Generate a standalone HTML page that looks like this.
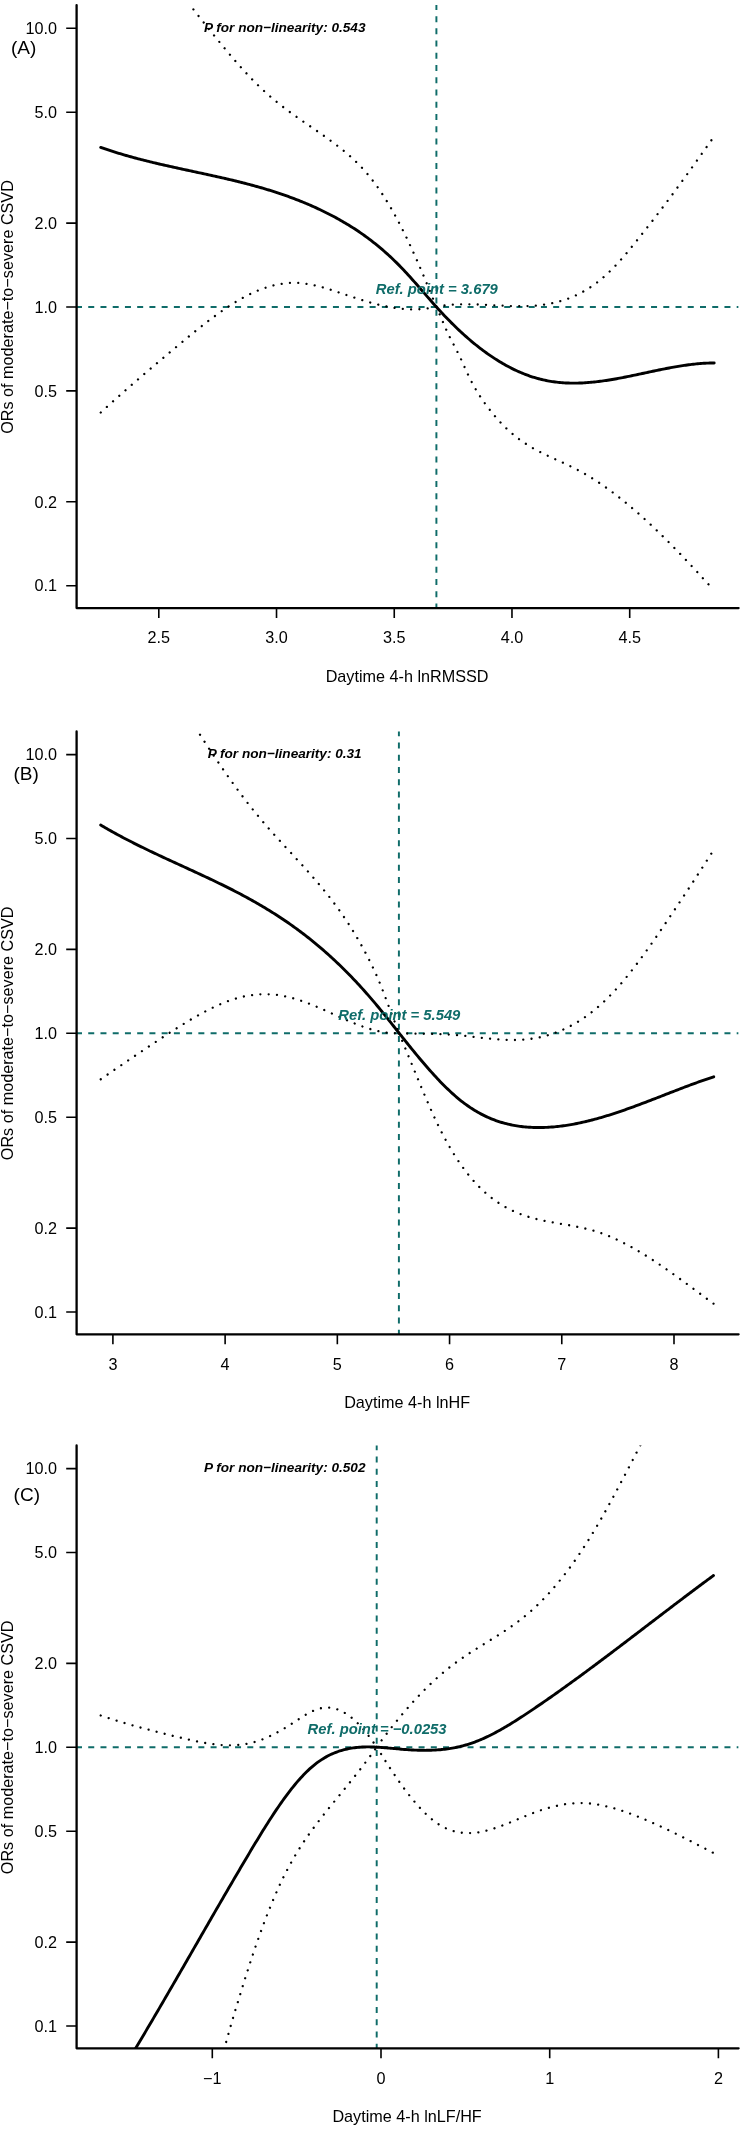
<!DOCTYPE html>
<html><head><meta charset="utf-8"><style>
html,body{margin:0;padding:0;background:#fff;}
svg{display:block;will-change:transform;}
text{font-family:"Liberation Sans",sans-serif;}
.t{font-size:16.2px;fill:#000;}
.l{font-size:19px;fill:#000;}
.p{font-size:13.6px;font-weight:bold;font-style:italic;fill:#000;}
.r{font-size:14.8px;font-weight:bold;font-style:italic;fill:#0f6c69;}
</style></head><body>
<svg width="744" height="2129" viewBox="0 0 744 2129">
<rect width="744" height="2129" fill="#fff"/>

<clipPath id="c0"><rect x="76.5" y="5.1" width="662.1" height="602.6"/></clipPath>
<g stroke="#0f6c69" stroke-width="1.95" stroke-dasharray="6 6.235" fill="none" clip-path="url(#c0)">
<line x1="76.0" y1="307.0" x2="738.6" y2="307.0"/>
<line x1="436.4" y1="3.9" x2="436.4" y2="607.7"/>
</g>
<g clip-path="url(#c0)" fill="none" stroke="#000">
<path d="M193.40,9.40 L194.91,11.31 L196.42,13.22 L197.93,15.13 L199.43,17.04 L200.94,18.94 L202.45,20.85 L203.96,22.75 L205.47,24.65 L206.98,26.55 L208.49,28.44 L210.00,30.33 L211.50,32.22 L213.01,34.09 L214.52,35.97 L216.03,37.84 L217.54,39.70 L219.05,41.55 L220.56,43.39 L222.07,45.23 L223.57,47.06 L225.08,48.88 L226.59,50.68 L228.10,52.48 L229.61,54.27 L231.12,56.05 L232.63,57.81 L234.13,59.56 L235.64,61.30 L237.15,63.03 L238.66,64.74 L240.17,66.43 L241.68,68.12 L243.19,69.78 L244.70,71.43 L246.20,73.07 L247.71,74.68 L249.22,76.28 L250.73,77.87 L252.24,79.43 L253.75,80.97 L255.26,82.50 L256.77,84.00 L258.27,85.49 L259.78,86.95 L261.29,88.39 L262.80,89.81 L264.31,91.21 L265.82,92.58 L267.33,93.93 L268.83,95.26 L270.34,96.57 L271.85,97.86 L273.36,99.13 L274.87,100.39 L276.38,101.62 L277.89,102.84 L279.40,104.04 L280.90,105.23 L282.41,106.40 L283.92,107.56 L285.43,108.71 L286.94,109.84 L288.45,110.96 L289.96,112.07 L291.47,113.17 L292.97,114.27 L294.48,115.35 L295.99,116.42 L297.50,117.49 L299.01,118.55 L300.52,119.61 L302.03,120.66 L303.53,121.71 L305.04,122.76 L306.55,123.80 L308.06,124.84 L309.57,125.88 L311.08,126.92 L312.59,127.96 L314.10,129.00 L315.60,130.04 L317.11,131.08 L318.62,132.13 L320.13,133.19 L321.64,134.25 L323.15,135.31 L324.66,136.38 L326.17,137.46 L327.67,138.54 L329.18,139.64 L330.69,140.74 L332.20,141.86 L333.71,142.98 L335.22,144.12 L336.73,145.27 L338.23,146.43 L339.74,147.61 L341.25,148.81 L342.76,150.02 L344.27,151.25 L345.78,152.51 L347.29,153.79 L348.80,155.09 L350.30,156.43 L351.81,157.79 L353.32,159.18 L354.83,160.60 L356.34,162.06 L357.85,163.55 L359.36,165.08 L360.87,166.65 L362.37,168.26 L363.88,169.91 L365.39,171.60 L366.90,173.34 L368.41,175.13 L369.92,176.97 L371.43,178.85 L372.93,180.79 L374.44,182.79 L375.95,184.83 L377.46,186.93 L378.97,189.09 L380.48,191.30 L381.99,193.56 L383.50,195.87 L385.00,198.24 L386.51,200.66 L388.02,203.13 L389.53,205.65 L391.04,208.23 L392.55,210.86 L394.06,213.54 L395.57,216.28 L397.07,219.07 L398.58,221.91 L400.09,224.80 L401.60,227.74 L403.11,230.73 L404.62,233.78 L406.13,236.87 L407.63,240.01 L409.14,243.20 L410.65,246.43 L412.16,249.71 L413.67,253.04 L415.18,256.41 L416.69,259.81 L418.20,263.26 L419.70,266.74 L421.21,270.26 L422.72,273.81 L424.23,277.39 L425.74,281.00 L427.25,284.63 L428.76,288.29 L430.27,291.97 L431.77,295.66 L433.28,299.37 L434.79,303.10 L436.30,306.83" stroke-width="2.3" stroke-linecap="round" stroke-dasharray="0.01 8.3"/>
<path d="M436.30,306.78 L437.81,306.51 L439.31,306.25 L440.82,306.01 L442.33,305.79 L443.83,305.58 L445.34,305.40 L446.85,305.22 L448.35,305.07 L449.86,304.93 L451.37,304.80 L452.87,304.69 L454.38,304.60 L455.88,304.51 L457.39,304.44 L458.90,304.39 L460.40,304.34 L461.91,304.30 L463.42,304.28 L464.92,304.26 L466.43,304.26 L467.94,304.26 L469.44,304.28 L470.95,304.30 L472.46,304.33 L473.96,304.36 L475.47,304.41 L476.98,304.45 L478.48,304.51 L479.99,304.57 L481.50,304.63 L483.00,304.70 L484.51,304.77 L486.02,304.84 L487.52,304.92 L489.03,305.00 L490.53,305.08 L492.04,305.16 L493.55,305.24 L495.05,305.32 L496.56,305.40 L498.07,305.48 L499.57,305.56 L501.08,305.63 L502.59,305.71 L504.09,305.78 L505.60,305.84 L507.11,305.90 L508.61,305.96 L510.12,306.01 L511.63,306.05 L513.13,306.09 L514.64,306.12 L516.15,306.15 L517.65,306.17 L519.16,306.17 L520.67,306.17 L522.17,306.16 L523.68,306.14 L525.18,306.11 L526.69,306.07 L528.20,306.02 L529.70,305.95 L531.21,305.87 L532.72,305.78 L534.22,305.68 L535.73,305.56 L537.24,305.43 L538.74,305.28 L540.25,305.11 L541.76,304.93 L543.26,304.73 L544.77,304.52 L546.28,304.29 L547.78,304.04 L549.29,303.77 L550.80,303.48 L552.30,303.17 L553.81,302.84 L555.32,302.49 L556.82,302.12 L558.33,301.73 L559.83,301.31 L561.34,300.88 L562.85,300.41 L564.35,299.93 L565.86,299.42 L567.37,298.88 L568.87,298.32 L570.38,297.74 L571.89,297.12 L573.39,296.48 L574.90,295.82 L576.41,295.12 L577.91,294.39 L579.42,293.64 L580.93,292.86 L582.43,292.04 L583.94,291.20 L585.45,290.32 L586.95,289.42 L588.46,288.48 L589.97,287.51 L591.47,286.50 L592.98,285.46 L594.48,284.39 L595.99,283.28 L597.50,282.13 L599.00,280.95 L600.51,279.74 L602.02,278.49 L603.52,277.20 L605.03,275.87 L606.54,274.50 L608.04,273.09 L609.55,271.65 L611.06,270.17 L612.56,268.65 L614.07,267.10 L615.58,265.52 L617.08,263.90 L618.59,262.26 L620.10,260.58 L621.60,258.89 L623.11,257.16 L624.62,255.42 L626.12,253.65 L627.63,251.86 L629.13,250.05 L630.64,248.23 L632.15,246.39 L633.65,244.54 L635.16,242.67 L636.67,240.80 L638.17,238.91 L639.68,237.02 L641.19,235.12 L642.69,233.22 L644.20,231.31 L645.71,229.39 L647.21,227.47 L648.72,225.55 L650.23,223.62 L651.73,221.68 L653.24,219.74 L654.75,217.79 L656.25,215.83 L657.76,213.87 L659.27,211.90 L660.77,209.92 L662.28,207.94 L663.78,205.94 L665.29,203.95 L666.80,201.94 L668.30,199.92 L669.81,197.90 L671.32,195.88 L672.82,193.84 L674.33,191.80 L675.84,189.75 L677.34,187.70 L678.85,185.64 L680.36,183.57 L681.86,181.50 L683.37,179.43 L684.88,177.35 L686.38,175.27 L687.89,173.18 L689.40,171.09 L690.90,168.99 L692.41,166.89 L693.92,164.79 L695.42,162.68 L696.93,160.58 L698.43,158.47 L699.94,156.35 L701.45,154.24 L702.95,152.12 L704.46,150.01 L705.97,147.89 L707.47,145.77 L708.98,143.65 L710.49,141.53 L711.99,139.41 L713.50,137.29" stroke-width="2.3" stroke-linecap="round" stroke-dasharray="0.01 8.3"/>
<path d="M100.75,412.51 L102.25,411.12 L103.76,409.75 L105.26,408.37 L106.77,407.00 L108.27,405.64 L109.78,404.28 L111.28,402.92 L112.79,401.57 L114.29,400.22 L115.80,398.87 L117.30,397.53 L118.81,396.19 L120.31,394.86 L121.82,393.52 L123.32,392.20 L124.83,390.87 L126.33,389.55 L127.83,388.23 L129.34,386.91 L130.84,385.60 L132.35,384.29 L133.85,382.99 L135.36,381.68 L136.86,380.38 L138.37,379.08 L139.87,377.78 L141.38,376.49 L142.88,375.20 L144.39,373.91 L145.89,372.62 L147.40,371.33 L148.90,370.05 L150.41,368.77 L151.91,367.49 L153.41,366.21 L154.92,364.93 L156.42,363.66 L157.93,362.39 L159.43,361.12 L160.94,359.84 L162.44,358.58 L163.95,357.31 L165.45,356.04 L166.96,354.78 L168.46,353.51 L169.97,352.25 L171.47,350.98 L172.98,349.72 L174.48,348.46 L175.99,347.20 L177.49,345.94 L178.99,344.68 L180.50,343.42 L182.00,342.16 L183.51,340.91 L185.01,339.66 L186.52,338.41 L188.02,337.17 L189.53,335.93 L191.03,334.69 L192.54,333.46 L194.04,332.23 L195.55,331.01 L197.05,329.79 L198.56,328.58 L200.06,327.38 L201.57,326.19 L203.07,325.00 L204.57,323.82 L206.08,322.65 L207.58,321.49 L209.09,320.34 L210.59,319.19 L212.10,318.06 L213.60,316.94 L215.11,315.83 L216.61,314.73 L218.12,313.64 L219.62,312.57 L221.13,311.50 L222.63,310.45 L224.14,309.42 L225.64,308.39 L227.15,307.38 L228.65,306.39 L230.15,305.41 L231.66,304.45 L233.16,303.50 L234.67,302.57 L236.17,301.66 L237.68,300.76 L239.18,299.88 L240.69,299.02 L242.19,298.18 L243.70,297.36 L245.20,296.55 L246.71,295.77 L248.21,295.00 L249.72,294.26 L251.22,293.53 L252.73,292.83 L254.23,292.15 L255.73,291.49 L257.24,290.86 L258.74,290.24 L260.25,289.65 L261.75,289.08 L263.26,288.54 L264.76,288.01 L266.27,287.51 L267.77,287.04 L269.28,286.59 L270.78,286.16 L272.29,285.76 L273.79,285.38 L275.30,285.03 L276.80,284.70 L278.31,284.40 L279.81,284.12 L281.32,283.88 L282.82,283.65 L284.32,283.46 L285.83,283.29 L287.33,283.15 L288.84,283.03 L290.34,282.95 L291.85,282.89 L293.35,282.86 L294.86,282.86 L296.36,282.89 L297.87,282.94 L299.37,283.03 L300.88,283.14 L302.38,283.28 L303.89,283.45 L305.39,283.64 L306.90,283.86 L308.40,284.10 L309.90,284.36 L311.41,284.64 L312.91,284.95 L314.42,285.27 L315.92,285.61 L317.43,285.97 L318.93,286.35 L320.44,286.74 L321.94,287.14 L323.45,287.56 L324.95,288.00 L326.46,288.44 L327.96,288.90 L329.47,289.36 L330.97,289.83 L332.48,290.32 L333.98,290.80 L335.48,291.30 L336.99,291.80 L338.49,292.30 L340.00,292.81 L341.50,293.32 L343.01,293.83 L344.51,294.34 L346.02,294.85 L347.52,295.36 L349.03,295.86 L350.53,296.36 L352.04,296.86 L353.54,297.36 L355.05,297.85 L356.55,298.34 L358.06,298.82 L359.56,299.30 L361.06,299.77 L362.57,300.24 L364.07,300.70 L365.58,301.15 L367.08,301.60 L368.59,302.04 L370.09,302.47 L371.60,302.89 L373.10,303.30 L374.61,303.70 L376.11,304.09 L377.62,304.48 L379.12,304.85 L380.63,305.21 L382.13,305.56 L383.64,305.89 L385.14,306.22 L386.64,306.53 L388.15,306.83 L389.65,307.11 L391.16,307.38 L392.66,307.64 L394.17,307.88 L395.67,308.10 L397.18,308.31 L398.68,308.50 L400.19,308.68 L401.69,308.84 L403.20,308.98 L404.70,309.10 L406.21,309.21 L407.71,309.29 L409.22,309.36 L410.72,309.40 L412.22,309.43 L413.73,309.44 L415.23,309.42 L416.74,309.39 L418.24,309.33 L419.75,309.25 L421.25,309.14 L422.76,309.02 L424.26,308.87 L425.77,308.69 L427.27,308.49 L428.78,308.27 L430.28,308.02 L431.79,307.75 L433.29,307.45 L434.80,307.12 L436.30,306.77" stroke-width="2.3" stroke-linecap="round" stroke-dasharray="0.01 8.3"/>
<path d="M436.30,306.79 L437.80,310.07 L439.30,313.50 L440.80,317.04 L442.30,320.61 L443.81,324.16 L445.31,327.62 L446.81,330.93 L448.31,334.10 L449.81,337.16 L451.31,340.12 L452.81,343.02 L454.31,345.89 L455.81,348.75 L457.32,351.65 L458.82,354.62 L460.32,357.71 L461.82,360.94 L463.32,364.27 L464.82,367.64 L466.32,370.98 L467.82,374.23 L469.32,377.34 L470.82,380.33 L472.33,383.21 L473.83,385.96 L475.33,388.61 L476.83,391.16 L478.33,393.61 L479.83,395.97 L481.33,398.25 L482.83,400.46 L484.33,402.59 L485.84,404.66 L487.34,406.68 L488.84,408.64 L490.34,410.56 L491.84,412.44 L493.34,414.27 L494.84,416.06 L496.34,417.80 L497.84,419.50 L499.35,421.16 L500.85,422.78 L502.35,424.35 L503.85,425.88 L505.35,427.37 L506.85,428.82 L508.35,430.23 L509.85,431.59 L511.35,432.92 L512.86,434.20 L514.36,435.45 L515.86,436.65 L517.36,437.82 L518.86,438.96 L520.36,440.06 L521.86,441.13 L523.36,442.17 L524.86,443.18 L526.36,444.16 L527.87,445.11 L529.37,446.03 L530.87,446.94 L532.37,447.81 L533.87,448.67 L535.37,449.50 L536.87,450.32 L538.37,451.12 L539.87,451.90 L541.38,452.66 L542.88,453.41 L544.38,454.15 L545.88,454.87 L547.38,455.59 L548.88,456.29 L550.38,456.99 L551.88,457.68 L553.38,458.37 L554.89,459.05 L556.39,459.73 L557.89,460.41 L559.39,461.09 L560.89,461.77 L562.39,462.46 L563.89,463.14 L565.39,463.83 L566.89,464.53 L568.40,465.24 L569.90,465.96 L571.40,466.68 L572.90,467.42 L574.40,468.17 L575.90,468.94 L577.40,469.72 L578.90,470.52 L580.40,471.33 L581.90,472.16 L583.41,473.01 L584.91,473.87 L586.41,474.74 L587.91,475.64 L589.41,476.54 L590.91,477.46 L592.41,478.40 L593.91,479.35 L595.41,480.31 L596.92,481.29 L598.42,482.28 L599.92,483.29 L601.42,484.31 L602.92,485.35 L604.42,486.39 L605.92,487.46 L607.42,488.53 L608.92,489.62 L610.43,490.72 L611.93,491.83 L613.43,492.96 L614.93,494.10 L616.43,495.25 L617.93,496.42 L619.43,497.60 L620.93,498.78 L622.43,499.99 L623.94,501.20 L625.44,502.42 L626.94,503.66 L628.44,504.91 L629.94,506.17 L631.44,507.44 L632.94,508.72 L634.44,510.01 L635.94,511.31 L637.44,512.63 L638.95,513.95 L640.45,515.29 L641.95,516.63 L643.45,517.99 L644.95,519.35 L646.45,520.72 L647.95,522.11 L649.45,523.50 L650.95,524.90 L652.46,526.32 L653.96,527.74 L655.46,529.17 L656.96,530.61 L658.46,532.06 L659.96,533.51 L661.46,534.98 L662.96,536.45 L664.46,537.93 L665.97,539.42 L667.47,540.92 L668.97,542.42 L670.47,543.94 L671.97,545.46 L673.47,546.98 L674.97,548.52 L676.47,550.06 L677.97,551.61 L679.48,553.16 L680.98,554.73 L682.48,556.30 L683.98,557.87 L685.48,559.45 L686.98,561.04 L688.48,562.63 L689.98,564.23 L691.48,565.84 L692.98,567.45 L694.49,569.06 L695.99,570.68 L697.49,572.31 L698.99,573.94 L700.49,575.58 L701.99,577.22 L703.49,578.86 L704.99,580.51 L706.49,582.17 L708.00,583.83 L709.50,585.49 L711.00,587.16 L712.50,588.83 L714.00,590.50" stroke-width="2.3" stroke-linecap="round" stroke-dasharray="0.01 8.3"/>
<path d="M100.70,147.39 L102.20,147.92 L103.70,148.43 L105.20,148.95 L106.70,149.45 L108.20,149.95 L109.70,150.44 L111.20,150.93 L112.70,151.41 L114.20,151.88 L115.70,152.35 L117.20,152.82 L118.70,153.28 L120.20,153.73 L121.70,154.18 L123.20,154.62 L124.70,155.06 L126.20,155.49 L127.70,155.92 L129.20,156.34 L130.70,156.76 L132.20,157.17 L133.70,157.58 L135.20,157.98 L136.70,158.38 L138.20,158.78 L139.70,159.17 L141.20,159.56 L142.70,159.95 L144.20,160.33 L145.70,160.71 L147.20,161.08 L148.70,161.45 L150.20,161.82 L151.70,162.18 L153.20,162.55 L154.70,162.91 L156.20,163.26 L157.70,163.61 L159.20,163.97 L160.70,164.31 L162.20,164.66 L163.70,165.00 L165.20,165.35 L166.70,165.69 L168.20,166.02 L169.70,166.36 L171.20,166.69 L172.70,167.03 L174.20,167.36 L175.70,167.69 L177.20,168.02 L178.70,168.34 L180.20,168.67 L181.70,169.00 L183.20,169.32 L184.70,169.64 L186.20,169.97 L187.70,170.29 L189.20,170.61 L190.70,170.93 L192.20,171.26 L193.70,171.58 L195.20,171.90 L196.70,172.22 L198.20,172.55 L199.70,172.87 L201.20,173.19 L202.70,173.51 L204.20,173.84 L205.70,174.16 L207.20,174.49 L208.70,174.82 L210.20,175.15 L211.70,175.48 L213.20,175.81 L214.70,176.14 L216.20,176.47 L217.70,176.81 L219.20,177.15 L220.70,177.49 L222.20,177.83 L223.70,178.17 L225.20,178.52 L226.70,178.87 L228.20,179.22 L229.70,179.57 L231.20,179.92 L232.70,180.28 L234.20,180.64 L235.70,181.01 L237.20,181.38 L238.70,181.75 L240.20,182.12 L241.70,182.50 L243.20,182.88 L244.70,183.26 L246.20,183.65 L247.70,184.04 L249.20,184.44 L250.70,184.84 L252.20,185.24 L253.70,185.65 L255.20,186.07 L256.70,186.48 L258.20,186.90 L259.70,187.33 L261.20,187.76 L262.70,188.20 L264.20,188.64 L265.70,189.09 L267.20,189.54 L268.70,190.00 L270.20,190.46 L271.70,190.93 L273.20,191.40 L274.70,191.88 L276.20,192.37 L277.70,192.86 L279.20,193.36 L280.70,193.86 L282.20,194.37 L283.70,194.89 L285.20,195.41 L286.70,195.94 L288.20,196.48 L289.70,197.02 L291.20,197.58 L292.70,198.13 L294.20,198.70 L295.70,199.27 L297.20,199.85 L298.70,200.44 L300.20,201.03 L301.70,201.64 L303.20,202.25 L304.70,202.87 L306.20,203.49 L307.70,204.13 L309.20,204.77 L310.70,205.42 L312.20,206.08 L313.70,206.75 L315.20,207.43 L316.70,208.12 L318.20,208.81 L319.70,209.52 L321.20,210.23 L322.70,210.96 L324.20,211.69 L325.70,212.43 L327.20,213.18 L328.70,213.94 L330.20,214.71 L331.70,215.49 L333.20,216.29 L334.70,217.09 L336.20,217.90 L337.70,218.72 L339.20,219.56 L340.70,220.41 L342.20,221.26 L343.70,222.13 L345.20,223.02 L346.70,223.91 L348.20,224.82 L349.70,225.74 L351.20,226.68 L352.70,227.63 L354.20,228.59 L355.70,229.57 L357.20,230.56 L358.70,231.57 L360.20,232.59 L361.70,233.63 L363.20,234.68 L364.70,235.75 L366.20,236.84 L367.70,237.94 L369.20,239.06 L370.70,240.19 L372.20,241.35 L373.70,242.52 L375.20,243.71 L376.70,244.92 L378.20,246.14 L379.70,247.38 L381.20,248.65 L382.70,249.93 L384.20,251.23 L385.70,252.55 L387.20,253.90 L388.70,255.26 L390.20,256.64 L391.70,258.05 L393.20,259.47 L394.70,260.92 L396.20,262.39 L397.70,263.88 L399.20,265.39 L400.70,266.92 L402.20,268.48 L403.70,270.06 L405.20,271.66 L406.70,273.28 L408.20,274.92 L409.70,276.57 L411.20,278.24 L412.70,279.92 L414.20,281.61 L415.70,283.32 L417.20,285.03 L418.70,286.74 L420.20,288.46 L421.70,290.19 L423.20,291.91 L424.70,293.64 L426.20,295.37 L427.70,297.09 L429.20,298.81 L430.70,300.52 L432.20,302.23 L433.70,303.92 L435.20,305.61 L436.70,307.28 L438.20,308.94 L439.70,310.58 L441.20,312.21 L442.70,313.82 L444.20,315.41 L445.70,316.98 L447.20,318.54 L448.70,320.08 L450.20,321.60 L451.70,323.10 L453.20,324.59 L454.70,326.06 L456.20,327.51 L457.70,328.94 L459.20,330.36 L460.70,331.76 L462.20,333.14 L463.70,334.50 L465.20,335.84 L466.70,337.17 L468.20,338.48 L469.70,339.77 L471.20,341.04 L472.70,342.29 L474.20,343.53 L475.70,344.75 L477.20,345.94 L478.70,347.12 L480.20,348.29 L481.70,349.43 L483.20,350.55 L484.70,351.66 L486.20,352.75 L487.70,353.82 L489.20,354.87 L490.70,355.90 L492.20,356.91 L493.70,357.91 L495.20,358.88 L496.70,359.84 L498.20,360.77 L499.70,361.69 L501.20,362.59 L502.70,363.47 L504.20,364.33 L505.70,365.18 L507.20,366.00 L508.70,366.80 L510.20,367.59 L511.70,368.35 L513.20,369.10 L514.70,369.82 L516.20,370.53 L517.70,371.22 L519.20,371.89 L520.70,372.53 L522.20,373.16 L523.70,373.77 L525.20,374.36 L526.70,374.93 L528.20,375.48 L529.70,376.01 L531.20,376.52 L532.70,377.01 L534.20,377.48 L535.70,377.93 L537.20,378.36 L538.70,378.77 L540.20,379.16 L541.70,379.53 L543.20,379.87 L544.70,380.20 L546.20,380.52 L547.70,380.81 L549.20,381.08 L550.70,381.33 L552.20,381.57 L553.70,381.79 L555.20,381.99 L556.70,382.17 L558.20,382.34 L559.70,382.49 L561.20,382.62 L562.70,382.74 L564.20,382.84 L565.70,382.93 L567.20,383.00 L568.70,383.06 L570.20,383.10 L571.70,383.12 L573.20,383.14 L574.70,383.14 L576.20,383.12 L577.70,383.09 L579.20,383.05 L580.70,383.00 L582.20,382.94 L583.70,382.86 L585.20,382.77 L586.70,382.67 L588.20,382.56 L589.70,382.43 L591.20,382.30 L592.70,382.16 L594.20,382.00 L595.70,381.84 L597.20,381.67 L598.70,381.49 L600.20,381.29 L601.70,381.10 L603.20,380.89 L604.70,380.67 L606.20,380.45 L607.70,380.22 L609.20,379.98 L610.70,379.74 L612.20,379.48 L613.70,379.23 L615.20,378.96 L616.70,378.70 L618.20,378.42 L619.70,378.14 L621.20,377.86 L622.70,377.57 L624.20,377.28 L625.70,376.98 L627.20,376.68 L628.70,376.37 L630.20,376.07 L631.70,375.76 L633.20,375.44 L634.70,375.13 L636.20,374.81 L637.70,374.50 L639.20,374.18 L640.70,373.86 L642.20,373.54 L643.70,373.21 L645.20,372.89 L646.70,372.57 L648.20,372.25 L649.70,371.93 L651.20,371.61 L652.70,371.29 L654.20,370.98 L655.70,370.66 L657.20,370.35 L658.70,370.04 L660.20,369.73 L661.70,369.43 L663.20,369.13 L664.70,368.83 L666.20,368.54 L667.70,368.25 L669.20,367.96 L670.70,367.68 L672.20,367.41 L673.70,367.14 L675.20,366.87 L676.70,366.62 L678.20,366.36 L679.70,366.12 L681.20,365.88 L682.70,365.65 L684.20,365.43 L685.70,365.21 L687.20,365.00 L688.70,364.80 L690.20,364.61 L691.70,364.43 L693.20,364.25 L694.70,364.09 L696.20,363.93 L697.70,363.79 L699.20,363.66 L700.70,363.53 L702.20,363.42 L703.70,363.32 L705.20,363.23 L706.70,363.15 L708.20,363.08 L709.70,363.03 L711.20,362.99 L712.70,362.96 L714.20,362.94" stroke-width="2.9" stroke-linecap="round" stroke-linejoin="round"/>
</g>
<path d="M76.6,5.1 V608.1 H738.6" fill="none" stroke="#000" stroke-width="2.3" stroke-linecap="round" stroke-linejoin="round"/>
<text class="t" x="57.1" y="34.0" text-anchor="end">10.0</text>
<text class="t" x="57.1" y="117.9" text-anchor="end">5.0</text>
<text class="t" x="57.1" y="228.8" text-anchor="end">2.0</text>
<text class="t" x="57.1" y="312.7" text-anchor="end">1.0</text>
<text class="t" x="57.1" y="396.6" text-anchor="end">0.5</text>
<text class="t" x="57.1" y="507.5" text-anchor="end">0.2</text>
<text class="t" x="57.1" y="591.4" text-anchor="end">0.1</text>
<text class="t" x="158.8" y="643.3" text-anchor="middle">2.5</text>
<text class="t" x="276.5" y="643.3" text-anchor="middle">3.0</text>
<text class="t" x="394.2" y="643.3" text-anchor="middle">3.5</text>
<text class="t" x="512.0" y="643.3" text-anchor="middle">4.0</text>
<text class="t" x="629.7" y="643.3" text-anchor="middle">4.5</text>
<path d="M66.2,28.30H76.5M66.2,112.20H76.5M66.2,223.10H76.5M66.2,307.00H76.5M66.2,390.90H76.5M66.2,501.80H76.5M66.2,585.70H76.5M158.80,607.7V618.0M276.52,607.7V618.0M394.25,607.7V618.0M511.97,607.7V618.0M629.70,607.7V618.0" stroke="#000" stroke-width="1.6" fill="none"/>
<text class="t" x="407.1" y="682.0" text-anchor="middle">Daytime 4-h lnRMSSD</text>
<text class="t" transform="translate(13.4,307.0) rotate(-90)" text-anchor="middle">ORs of moderate−to−severe CSVD</text>
<text class="l" x="11.0" y="53.7">(A)</text>
<text class="p" x="284.7" y="31.5" text-anchor="middle">P for non−linearity: 0.543</text>
<text class="r" x="436.8" y="293.8" text-anchor="middle">Ref. point = 3.679</text>
<clipPath id="c1"><rect x="76.5" y="731.4" width="662.1" height="602.6"/></clipPath>
<g stroke="#0f6c69" stroke-width="1.95" stroke-dasharray="6 6.235" fill="none" clip-path="url(#c1)">
<line x1="76.0" y1="1033.3" x2="738.6" y2="1033.3"/>
<line x1="398.9" y1="730.2" x2="398.9" y2="1334.0"/>
</g>
<g clip-path="url(#c1)" fill="none" stroke="#000">
<path d="M200.00,734.74 L201.51,737.07 L203.01,739.39 L204.52,741.71 L206.03,744.01 L207.53,746.31 L209.04,748.59 L210.55,750.87 L212.05,753.13 L213.56,755.39 L215.07,757.63 L216.57,759.86 L218.08,762.08 L219.59,764.29 L221.10,766.49 L222.60,768.67 L224.11,770.84 L225.62,773.00 L227.12,775.15 L228.63,777.28 L230.14,779.40 L231.64,781.51 L233.15,783.60 L234.66,785.68 L236.16,787.74 L237.67,789.79 L239.18,791.83 L240.68,793.85 L242.19,795.85 L243.70,797.84 L245.20,799.81 L246.71,801.77 L248.22,803.71 L249.72,805.63 L251.23,807.54 L252.74,809.43 L254.25,811.31 L255.75,813.16 L257.26,815.00 L258.77,816.82 L260.27,818.63 L261.78,820.41 L263.29,822.18 L264.79,823.94 L266.30,825.68 L267.81,827.41 L269.31,829.12 L270.82,830.83 L272.33,832.52 L273.83,834.20 L275.34,835.88 L276.85,837.54 L278.35,839.20 L279.86,840.85 L281.37,842.50 L282.88,844.14 L284.38,845.78 L285.89,847.41 L287.40,849.04 L288.90,850.67 L290.41,852.30 L291.92,853.93 L293.42,855.56 L294.93,857.19 L296.44,858.83 L297.94,860.46 L299.45,862.11 L300.96,863.75 L302.46,865.41 L303.97,867.07 L305.48,868.74 L306.98,870.41 L308.49,872.10 L310.00,873.80 L311.50,875.51 L313.01,877.23 L314.52,878.96 L316.02,880.71 L317.53,882.47 L319.04,884.24 L320.55,886.04 L322.05,887.85 L323.56,889.69 L325.07,891.54 L326.57,893.41 L328.08,895.31 L329.59,897.23 L331.09,899.18 L332.60,901.15 L334.11,903.15 L335.61,905.17 L337.12,907.23 L338.63,909.31 L340.13,911.43 L341.64,913.58 L343.15,915.76 L344.65,917.98 L346.16,920.24 L347.67,922.53 L349.17,924.85 L350.68,927.22 L352.19,929.63 L353.70,932.08 L355.20,934.57 L356.71,937.10 L358.22,939.68 L359.72,942.30 L361.23,944.98 L362.74,947.69 L364.24,950.46 L365.75,953.28 L367.26,956.15 L368.76,959.08 L370.27,962.08 L371.78,965.15 L373.28,968.30 L374.79,971.55 L376.30,974.88 L377.80,978.32 L379.31,981.88 L380.82,985.54 L382.32,989.33 L383.83,993.25 L385.34,997.26 L386.85,1001.32 L388.35,1005.39 L389.86,1009.42 L391.37,1013.37 L392.87,1017.23 L394.38,1021.05 L395.89,1024.93 L397.39,1028.94 L398.90,1033.19" stroke-width="2.3" stroke-linecap="round" stroke-dasharray="0.01 8.3"/>
<path d="M398.90,1033.22 L400.41,1033.28 L401.91,1033.34 L403.42,1033.39 L404.92,1033.44 L406.43,1033.48 L407.93,1033.52 L409.44,1033.56 L410.95,1033.59 L412.45,1033.62 L413.96,1033.64 L415.46,1033.67 L416.97,1033.69 L418.47,1033.71 L419.98,1033.73 L421.49,1033.75 L422.99,1033.77 L424.50,1033.79 L426.00,1033.81 L427.51,1033.83 L429.01,1033.86 L430.52,1033.88 L432.03,1033.91 L433.53,1033.94 L435.04,1033.98 L436.54,1034.02 L438.05,1034.06 L439.56,1034.11 L441.06,1034.16 L442.57,1034.22 L444.07,1034.28 L445.58,1034.35 L447.08,1034.43 L448.59,1034.52 L450.10,1034.61 L451.60,1034.71 L453.11,1034.82 L454.61,1034.94 L456.12,1035.06 L457.62,1035.19 L459.13,1035.33 L460.64,1035.48 L462.14,1035.63 L463.65,1035.78 L465.15,1035.94 L466.66,1036.11 L468.16,1036.27 L469.67,1036.44 L471.18,1036.62 L472.68,1036.79 L474.19,1036.96 L475.69,1037.14 L477.20,1037.31 L478.70,1037.49 L480.21,1037.66 L481.72,1037.83 L483.22,1038.00 L484.73,1038.16 L486.23,1038.33 L487.74,1038.48 L489.24,1038.64 L490.75,1038.79 L492.26,1038.93 L493.76,1039.06 L495.27,1039.19 L496.77,1039.31 L498.28,1039.43 L499.78,1039.53 L501.29,1039.63 L502.80,1039.72 L504.30,1039.79 L505.81,1039.86 L507.31,1039.91 L508.82,1039.95 L510.32,1039.98 L511.83,1040.00 L513.34,1040.00 L514.84,1039.99 L516.35,1039.96 L517.85,1039.92 L519.36,1039.86 L520.87,1039.79 L522.37,1039.70 L523.88,1039.59 L525.38,1039.46 L526.89,1039.32 L528.39,1039.15 L529.90,1038.97 L531.41,1038.77 L532.91,1038.54 L534.42,1038.30 L535.92,1038.04 L537.43,1037.76 L538.93,1037.45 L540.44,1037.13 L541.95,1036.78 L543.45,1036.42 L544.96,1036.03 L546.46,1035.62 L547.97,1035.19 L549.47,1034.74 L550.98,1034.26 L552.49,1033.76 L553.99,1033.24 L555.50,1032.70 L557.00,1032.13 L558.51,1031.54 L560.01,1030.93 L561.52,1030.29 L563.03,1029.63 L564.53,1028.94 L566.04,1028.23 L567.54,1027.50 L569.05,1026.74 L570.55,1025.96 L572.06,1025.14 L573.57,1024.31 L575.07,1023.45 L576.58,1022.56 L578.08,1021.65 L579.59,1020.71 L581.09,1019.74 L582.60,1018.74 L584.11,1017.72 L585.61,1016.67 L587.12,1015.60 L588.62,1014.49 L590.13,1013.36 L591.63,1012.20 L593.14,1011.01 L594.65,1009.80 L596.15,1008.55 L597.66,1007.28 L599.16,1005.97 L600.67,1004.64 L602.18,1003.27 L603.68,1001.88 L605.19,1000.45 L606.69,999.00 L608.20,997.52 L609.70,996.00 L611.21,994.45 L612.72,992.87 L614.22,991.26 L615.73,989.62 L617.23,987.95 L618.74,986.26 L620.24,984.53 L621.75,982.78 L623.26,980.99 L624.76,979.19 L626.27,977.36 L627.77,975.50 L629.28,973.62 L630.78,971.72 L632.29,969.80 L633.80,967.85 L635.30,965.88 L636.81,963.90 L638.31,961.89 L639.82,959.87 L641.32,957.83 L642.83,955.77 L644.34,953.70 L645.84,951.61 L647.35,949.50 L648.85,947.39 L650.36,945.26 L651.86,943.11 L653.37,940.96 L654.88,938.79 L656.38,936.62 L657.89,934.43 L659.39,932.24 L660.90,930.04 L662.40,927.83 L663.91,925.61 L665.42,923.39 L666.92,921.17 L668.43,918.94 L669.93,916.70 L671.44,914.46 L672.94,912.22 L674.45,909.98 L675.96,907.73 L677.46,905.47 L678.97,903.21 L680.47,900.95 L681.98,898.68 L683.49,896.41 L684.99,894.13 L686.50,891.85 L688.00,889.57 L689.51,887.28 L691.01,884.99 L692.52,882.69 L694.03,880.38 L695.53,878.08 L697.04,875.76 L698.54,873.45 L700.05,871.13 L701.55,868.80 L703.06,866.47 L704.57,864.14 L706.07,861.80 L707.58,859.45 L709.08,857.10 L710.59,854.75 L712.09,852.39 L713.60,850.02" stroke-width="2.3" stroke-linecap="round" stroke-dasharray="0.01 8.3"/>
<path d="M100.75,1079.23 L102.26,1078.19 L103.76,1077.15 L105.27,1076.12 L106.77,1075.08 L108.28,1074.04 L109.78,1073.01 L111.29,1071.97 L112.80,1070.94 L114.30,1069.90 L115.81,1068.87 L117.31,1067.83 L118.82,1066.80 L120.33,1065.77 L121.83,1064.74 L123.34,1063.71 L124.84,1062.68 L126.35,1061.65 L127.85,1060.63 L129.36,1059.60 L130.87,1058.58 L132.37,1057.56 L133.88,1056.53 L135.38,1055.51 L136.89,1054.49 L138.40,1053.48 L139.90,1052.46 L141.41,1051.45 L142.91,1050.43 L144.42,1049.42 L145.92,1048.41 L147.43,1047.41 L148.94,1046.40 L150.44,1045.40 L151.95,1044.39 L153.45,1043.39 L154.96,1042.40 L156.46,1041.40 L157.97,1040.41 L159.48,1039.41 L160.98,1038.43 L162.49,1037.44 L163.99,1036.45 L165.50,1035.47 L167.01,1034.49 L168.51,1033.51 L170.02,1032.54 L171.52,1031.57 L173.03,1030.60 L174.53,1029.63 L176.04,1028.67 L177.55,1027.72 L179.05,1026.76 L180.56,1025.82 L182.06,1024.88 L183.57,1023.94 L185.08,1023.01 L186.58,1022.09 L188.09,1021.18 L189.59,1020.27 L191.10,1019.38 L192.60,1018.49 L194.11,1017.61 L195.62,1016.74 L197.12,1015.88 L198.63,1015.03 L200.13,1014.19 L201.64,1013.36 L203.14,1012.55 L204.65,1011.74 L206.16,1010.95 L207.66,1010.17 L209.17,1009.41 L210.67,1008.66 L212.18,1007.92 L213.69,1007.20 L215.19,1006.49 L216.70,1005.80 L218.20,1005.12 L219.71,1004.46 L221.21,1003.82 L222.72,1003.20 L224.23,1002.59 L225.73,1002.00 L227.24,1001.43 L228.74,1000.88 L230.25,1000.34 L231.76,999.83 L233.26,999.34 L234.77,998.87 L236.27,998.42 L237.78,997.99 L239.28,997.58 L240.79,997.19 L242.30,996.83 L243.80,996.49 L245.31,996.18 L246.81,995.89 L248.32,995.62 L249.82,995.37 L251.33,995.15 L252.84,994.95 L254.34,994.78 L255.85,994.63 L257.35,994.50 L258.86,994.39 L260.37,994.31 L261.87,994.25 L263.38,994.22 L264.88,994.21 L266.39,994.22 L267.89,994.25 L269.40,994.31 L270.91,994.39 L272.41,994.50 L273.92,994.62 L275.42,994.78 L276.93,994.95 L278.44,995.15 L279.94,995.37 L281.45,995.61 L282.95,995.88 L284.46,996.17 L285.96,996.48 L287.47,996.81 L288.98,997.17 L290.48,997.55 L291.99,997.94 L293.49,998.36 L295.00,998.80 L296.51,999.25 L298.01,999.72 L299.52,1000.21 L301.02,1000.71 L302.53,1001.23 L304.03,1001.77 L305.54,1002.32 L307.05,1002.88 L308.55,1003.46 L310.06,1004.04 L311.56,1004.64 L313.07,1005.25 L314.57,1005.87 L316.08,1006.50 L317.59,1007.14 L319.09,1007.78 L320.60,1008.44 L322.10,1009.09 L323.61,1009.76 L325.12,1010.43 L326.62,1011.10 L328.13,1011.78 L329.63,1012.46 L331.14,1013.15 L332.64,1013.83 L334.15,1014.52 L335.66,1015.20 L337.16,1015.88 L338.67,1016.57 L340.17,1017.25 L341.68,1017.92 L343.19,1018.59 L344.69,1019.26 L346.20,1019.92 L347.70,1020.57 L349.21,1021.22 L350.71,1021.85 L352.22,1022.48 L353.73,1023.10 L355.23,1023.71 L356.74,1024.31 L358.24,1024.89 L359.75,1025.46 L361.25,1026.02 L362.76,1026.57 L364.27,1027.09 L365.77,1027.61 L367.28,1028.10 L368.78,1028.58 L370.29,1029.04 L371.80,1029.48 L373.30,1029.90 L374.81,1030.29 L376.31,1030.67 L377.82,1031.03 L379.32,1031.36 L380.83,1031.66 L382.34,1031.95 L383.84,1032.20 L385.35,1032.43 L386.85,1032.64 L388.36,1032.81 L389.87,1032.96 L391.37,1033.07 L392.88,1033.16 L394.38,1033.22 L395.89,1033.24 L397.39,1033.23 L398.90,1033.19" stroke-width="2.3" stroke-linecap="round" stroke-dasharray="0.01 8.3"/>
<path d="M398.90,1033.22 L400.40,1036.74 L401.90,1040.30 L403.40,1043.88 L404.90,1047.48 L406.40,1051.10 L407.90,1054.74 L409.40,1058.38 L410.90,1062.04 L412.40,1065.69 L413.90,1069.35 L415.41,1073.00 L416.91,1076.65 L418.41,1080.28 L419.91,1083.90 L421.41,1087.50 L422.91,1091.08 L424.41,1094.63 L425.91,1098.15 L427.41,1101.64 L428.91,1105.09 L430.41,1108.50 L431.91,1111.86 L433.41,1115.17 L434.91,1118.43 L436.41,1121.63 L437.91,1124.77 L439.41,1127.84 L440.91,1130.84 L442.41,1133.78 L443.91,1136.65 L445.41,1139.45 L446.92,1142.19 L448.42,1144.86 L449.92,1147.47 L451.42,1150.02 L452.92,1152.51 L454.42,1154.93 L455.92,1157.29 L457.42,1159.60 L458.92,1161.84 L460.42,1164.03 L461.92,1166.16 L463.42,1168.23 L464.92,1170.25 L466.42,1172.22 L467.92,1174.13 L469.42,1175.99 L470.92,1177.79 L472.42,1179.55 L473.92,1181.26 L475.42,1182.92 L476.92,1184.52 L478.43,1186.09 L479.93,1187.60 L481.43,1189.07 L482.93,1190.50 L484.43,1191.88 L485.93,1193.21 L487.43,1194.51 L488.93,1195.76 L490.43,1196.98 L491.93,1198.15 L493.43,1199.29 L494.93,1200.39 L496.43,1201.45 L497.93,1202.47 L499.43,1203.46 L500.93,1204.41 L502.43,1205.33 L503.93,1206.22 L505.43,1207.08 L506.93,1207.90 L508.43,1208.70 L509.94,1209.46 L511.44,1210.20 L512.94,1210.91 L514.44,1211.59 L515.94,1212.24 L517.44,1212.87 L518.94,1213.48 L520.44,1214.06 L521.94,1214.62 L523.44,1215.16 L524.94,1215.67 L526.44,1216.17 L527.94,1216.64 L529.44,1217.10 L530.94,1217.54 L532.44,1217.96 L533.94,1218.37 L535.44,1218.76 L536.94,1219.13 L538.44,1219.50 L539.94,1219.85 L541.45,1220.18 L542.95,1220.51 L544.45,1220.82 L545.95,1221.13 L547.45,1221.43 L548.95,1221.72 L550.45,1222.00 L551.95,1222.27 L553.45,1222.54 L554.95,1222.81 L556.45,1223.07 L557.95,1223.33 L559.45,1223.59 L560.95,1223.84 L562.45,1224.10 L563.95,1224.35 L565.45,1224.61 L566.95,1224.87 L568.45,1225.13 L569.95,1225.39 L571.45,1225.66 L572.96,1225.94 L574.46,1226.22 L575.96,1226.50 L577.46,1226.80 L578.96,1227.10 L580.46,1227.42 L581.96,1227.74 L583.46,1228.07 L584.96,1228.42 L586.46,1228.78 L587.96,1229.15 L589.46,1229.54 L590.96,1229.94 L592.46,1230.36 L593.96,1230.80 L595.46,1231.25 L596.96,1231.72 L598.46,1232.21 L599.96,1232.72 L601.46,1233.25 L602.96,1233.79 L604.47,1234.35 L605.97,1234.93 L607.47,1235.52 L608.97,1236.13 L610.47,1236.76 L611.97,1237.40 L613.47,1238.06 L614.97,1238.74 L616.47,1239.43 L617.97,1240.13 L619.47,1240.85 L620.97,1241.58 L622.47,1242.33 L623.97,1243.09 L625.47,1243.86 L626.97,1244.65 L628.47,1245.45 L629.97,1246.27 L631.47,1247.09 L632.97,1247.93 L634.47,1248.78 L635.98,1249.64 L637.48,1250.52 L638.98,1251.40 L640.48,1252.29 L641.98,1253.20 L643.48,1254.12 L644.98,1255.04 L646.48,1255.98 L647.98,1256.93 L649.48,1257.88 L650.98,1258.85 L652.48,1259.82 L653.98,1260.80 L655.48,1261.79 L656.98,1262.79 L658.48,1263.79 L659.98,1264.81 L661.48,1265.83 L662.98,1266.85 L664.48,1267.89 L665.98,1268.93 L667.49,1269.97 L668.99,1271.02 L670.49,1272.08 L671.99,1273.14 L673.49,1274.21 L674.99,1275.29 L676.49,1276.36 L677.99,1277.44 L679.49,1278.53 L680.99,1279.62 L682.49,1280.71 L683.99,1281.81 L685.49,1282.91 L686.99,1284.01 L688.49,1285.11 L689.99,1286.22 L691.49,1287.33 L692.99,1288.44 L694.49,1289.55 L695.99,1290.66 L697.49,1291.77 L699.00,1292.89 L700.50,1294.00 L702.00,1295.12 L703.50,1296.23 L705.00,1297.34 L706.50,1298.46 L708.00,1299.57 L709.50,1300.68 L711.00,1301.79 L712.50,1302.89 L714.00,1304.00" stroke-width="2.3" stroke-linecap="round" stroke-dasharray="0.01 8.3"/>
<path d="M100.70,825.07 L102.20,825.96 L103.70,826.84 L105.21,827.71 L106.71,828.57 L108.21,829.43 L109.71,830.28 L111.22,831.13 L112.72,831.97 L114.22,832.80 L115.72,833.62 L117.23,834.44 L118.73,835.26 L120.23,836.07 L121.73,836.87 L123.24,837.66 L124.74,838.46 L126.24,839.24 L127.74,840.02 L129.25,840.80 L130.75,841.57 L132.25,842.33 L133.75,843.09 L135.26,843.85 L136.76,844.60 L138.26,845.35 L139.76,846.10 L141.27,846.84 L142.77,847.57 L144.27,848.31 L145.77,849.04 L147.28,849.76 L148.78,850.48 L150.28,851.20 L151.78,851.92 L153.29,852.64 L154.79,853.35 L156.29,854.06 L157.79,854.76 L159.30,855.47 L160.80,856.17 L162.30,856.87 L163.80,857.57 L165.31,858.27 L166.81,858.96 L168.31,859.66 L169.81,860.35 L171.32,861.04 L172.82,861.73 L174.32,862.42 L175.82,863.11 L177.32,863.80 L178.83,864.49 L180.33,865.17 L181.83,865.86 L183.33,866.55 L184.84,867.24 L186.34,867.93 L187.84,868.62 L189.34,869.31 L190.85,870.00 L192.35,870.69 L193.85,871.38 L195.35,872.07 L196.86,872.77 L198.36,873.46 L199.86,874.16 L201.36,874.86 L202.87,875.56 L204.37,876.26 L205.87,876.97 L207.37,877.67 L208.88,878.38 L210.38,879.09 L211.88,879.81 L213.38,880.53 L214.89,881.25 L216.39,881.97 L217.89,882.70 L219.39,883.43 L220.90,884.16 L222.40,884.90 L223.90,885.64 L225.40,886.38 L226.91,887.13 L228.41,887.89 L229.91,888.64 L231.41,889.41 L232.92,890.17 L234.42,890.94 L235.92,891.72 L237.42,892.50 L238.93,893.29 L240.43,894.08 L241.93,894.88 L243.43,895.68 L244.94,896.49 L246.44,897.31 L247.94,898.13 L249.44,898.95 L250.95,899.79 L252.45,900.63 L253.95,901.47 L255.45,902.32 L256.95,903.18 L258.46,904.05 L259.96,904.93 L261.46,905.81 L262.96,906.70 L264.47,907.59 L265.97,908.50 L267.47,909.41 L268.97,910.33 L270.48,911.25 L271.98,912.19 L273.48,913.14 L274.98,914.09 L276.49,915.05 L277.99,916.02 L279.49,917.00 L280.99,917.99 L282.50,918.99 L284.00,919.99 L285.50,921.01 L287.00,922.04 L288.51,923.07 L290.01,924.12 L291.51,925.18 L293.01,926.24 L294.52,927.32 L296.02,928.41 L297.52,929.50 L299.02,930.61 L300.53,931.73 L302.03,932.86 L303.53,934.01 L305.03,935.16 L306.54,936.32 L308.04,937.50 L309.54,938.69 L311.04,939.89 L312.55,941.10 L314.05,942.32 L315.55,943.56 L317.05,944.81 L318.56,946.07 L320.06,947.34 L321.56,948.63 L323.06,949.93 L324.57,951.24 L326.07,952.57 L327.57,953.90 L329.07,955.25 L330.57,956.62 L332.08,957.99 L333.58,959.38 L335.08,960.79 L336.58,962.20 L338.09,963.63 L339.59,965.08 L341.09,966.53 L342.59,968.00 L344.10,969.49 L345.60,970.98 L347.10,972.49 L348.60,974.02 L350.11,975.56 L351.61,977.11 L353.11,978.68 L354.61,980.26 L356.12,981.86 L357.62,983.47 L359.12,985.09 L360.62,986.73 L362.13,988.38 L363.63,990.05 L365.13,991.73 L366.63,993.43 L368.14,995.14 L369.64,996.87 L371.14,998.61 L372.64,1000.37 L374.15,1002.14 L375.65,1003.92 L377.15,1005.73 L378.65,1007.54 L380.16,1009.37 L381.66,1011.21 L383.16,1013.06 L384.66,1014.92 L386.17,1016.79 L387.67,1018.67 L389.17,1020.55 L390.67,1022.44 L392.18,1024.33 L393.68,1026.23 L395.18,1028.12 L396.68,1030.02 L398.19,1031.92 L399.69,1033.82 L401.19,1035.72 L402.69,1037.61 L404.20,1039.50 L405.70,1041.38 L407.20,1043.26 L408.70,1045.13 L410.20,1046.99 L411.71,1048.85 L413.21,1050.70 L414.71,1052.53 L416.21,1054.36 L417.72,1056.17 L419.22,1057.98 L420.72,1059.77 L422.22,1061.55 L423.73,1063.31 L425.23,1065.06 L426.73,1066.80 L428.23,1068.52 L429.74,1070.22 L431.24,1071.91 L432.74,1073.58 L434.24,1075.23 L435.75,1076.86 L437.25,1078.47 L438.75,1080.06 L440.25,1081.63 L441.76,1083.18 L443.26,1084.70 L444.76,1086.21 L446.26,1087.69 L447.77,1089.14 L449.27,1090.57 L450.77,1091.97 L452.27,1093.35 L453.78,1094.70 L455.28,1096.02 L456.78,1097.31 L458.28,1098.58 L459.79,1099.81 L461.29,1101.02 L462.79,1102.19 L464.29,1103.33 L465.80,1104.44 L467.30,1105.51 L468.80,1106.56 L470.30,1107.58 L471.81,1108.56 L473.31,1109.52 L474.81,1110.44 L476.31,1111.34 L477.82,1112.21 L479.32,1113.05 L480.82,1113.86 L482.32,1114.65 L483.82,1115.40 L485.33,1116.13 L486.83,1116.84 L488.33,1117.51 L489.83,1118.16 L491.34,1118.79 L492.84,1119.39 L494.34,1119.97 L495.84,1120.52 L497.35,1121.04 L498.85,1121.55 L500.35,1122.03 L501.85,1122.49 L503.36,1122.92 L504.86,1123.33 L506.36,1123.72 L507.86,1124.09 L509.37,1124.44 L510.87,1124.77 L512.37,1125.08 L513.87,1125.36 L515.38,1125.63 L516.88,1125.88 L518.38,1126.11 L519.88,1126.32 L521.39,1126.51 L522.89,1126.69 L524.39,1126.84 L525.89,1126.98 L527.40,1127.11 L528.90,1127.21 L530.40,1127.30 L531.90,1127.38 L533.41,1127.44 L534.91,1127.49 L536.41,1127.52 L537.91,1127.53 L539.42,1127.53 L540.92,1127.52 L542.42,1127.50 L543.92,1127.46 L545.43,1127.41 L546.93,1127.34 L548.43,1127.26 L549.93,1127.17 L551.44,1127.06 L552.94,1126.95 L554.44,1126.82 L555.94,1126.67 L557.45,1126.52 L558.95,1126.35 L560.45,1126.18 L561.95,1125.99 L563.45,1125.78 L564.96,1125.57 L566.46,1125.35 L567.96,1125.11 L569.46,1124.87 L570.97,1124.61 L572.47,1124.35 L573.97,1124.07 L575.47,1123.78 L576.98,1123.49 L578.48,1123.18 L579.98,1122.86 L581.48,1122.54 L582.99,1122.20 L584.49,1121.86 L585.99,1121.51 L587.49,1121.15 L589.00,1120.78 L590.50,1120.40 L592.00,1120.01 L593.50,1119.62 L595.01,1119.21 L596.51,1118.80 L598.01,1118.39 L599.51,1117.96 L601.02,1117.53 L602.52,1117.09 L604.02,1116.64 L605.52,1116.19 L607.03,1115.73 L608.53,1115.26 L610.03,1114.79 L611.53,1114.31 L613.04,1113.83 L614.54,1113.34 L616.04,1112.84 L617.54,1112.34 L619.05,1111.83 L620.55,1111.32 L622.05,1110.81 L623.55,1110.28 L625.06,1109.76 L626.56,1109.23 L628.06,1108.70 L629.56,1108.16 L631.07,1107.62 L632.57,1107.07 L634.07,1106.52 L635.57,1105.97 L637.08,1105.41 L638.58,1104.85 L640.08,1104.29 L641.58,1103.73 L643.08,1103.16 L644.59,1102.59 L646.09,1102.02 L647.59,1101.45 L649.09,1100.87 L650.60,1100.30 L652.10,1099.72 L653.60,1099.14 L655.10,1098.56 L656.61,1097.98 L658.11,1097.39 L659.61,1096.81 L661.11,1096.23 L662.62,1095.64 L664.12,1095.06 L665.62,1094.47 L667.12,1093.89 L668.63,1093.31 L670.13,1092.72 L671.63,1092.14 L673.13,1091.56 L674.64,1090.98 L676.14,1090.40 L677.64,1089.82 L679.14,1089.24 L680.65,1088.67 L682.15,1088.10 L683.65,1087.52 L685.15,1086.96 L686.66,1086.39 L688.16,1085.83 L689.66,1085.26 L691.16,1084.71 L692.67,1084.15 L694.17,1083.60 L695.67,1083.05 L697.17,1082.51 L698.68,1081.96 L700.18,1081.43 L701.68,1080.89 L703.18,1080.36 L704.69,1079.84 L706.19,1079.32 L707.69,1078.80 L709.19,1078.29 L710.70,1077.79 L712.20,1077.29 L713.70,1076.79" stroke-width="2.9" stroke-linecap="round" stroke-linejoin="round"/>
</g>
<path d="M76.6,731.4 V1334.3 H738.6" fill="none" stroke="#000" stroke-width="2.3" stroke-linecap="round" stroke-linejoin="round"/>
<text class="t" x="57.1" y="760.3" text-anchor="end">10.0</text>
<text class="t" x="57.1" y="844.2" text-anchor="end">5.0</text>
<text class="t" x="57.1" y="955.1" text-anchor="end">2.0</text>
<text class="t" x="57.1" y="1039.0" text-anchor="end">1.0</text>
<text class="t" x="57.1" y="1122.9" text-anchor="end">0.5</text>
<text class="t" x="57.1" y="1233.8" text-anchor="end">0.2</text>
<text class="t" x="57.1" y="1317.7" text-anchor="end">0.1</text>
<text class="t" x="112.9" y="1369.6" text-anchor="middle">3</text>
<text class="t" x="225.1" y="1369.6" text-anchor="middle">4</text>
<text class="t" x="337.3" y="1369.6" text-anchor="middle">5</text>
<text class="t" x="449.6" y="1369.6" text-anchor="middle">6</text>
<text class="t" x="561.8" y="1369.6" text-anchor="middle">7</text>
<text class="t" x="674.0" y="1369.6" text-anchor="middle">8</text>
<path d="M66.2,754.60H76.5M66.2,838.50H76.5M66.2,949.40H76.5M66.2,1033.30H76.5M66.2,1117.20H76.5M66.2,1228.10H76.5M66.2,1312.00H76.5M112.90,1334.0V1344.3M225.12,1334.0V1344.3M337.34,1334.0V1344.3M449.56,1334.0V1344.3M561.78,1334.0V1344.3M674.00,1334.0V1344.3" stroke="#000" stroke-width="1.6" fill="none"/>
<text class="t" x="407.1" y="1408.3" text-anchor="middle">Daytime 4-h lnHF</text>
<text class="t" transform="translate(13.4,1033.3) rotate(-90)" text-anchor="middle">ORs of moderate−to−severe CSVD</text>
<text class="l" x="13.4" y="780.3">(B)</text>
<text class="p" x="284.7" y="757.8" text-anchor="middle">P for non−linearity: 0.31</text>
<text class="r" x="399.3" y="1020.1" text-anchor="middle">Ref. point = 5.549</text>
<clipPath id="c2"><rect x="76.5" y="1445.4" width="662.1" height="602.6"/></clipPath>
<g stroke="#0f6c69" stroke-width="1.95" stroke-dasharray="6 6.235" fill="none" clip-path="url(#c2)">
<line x1="76.0" y1="1747.3" x2="738.6" y2="1747.3"/>
<line x1="376.7" y1="1444.2" x2="376.7" y2="2048.0"/>
</g>
<g clip-path="url(#c2)" fill="none" stroke="#000">
<path d="M100.75,1715.49 L102.26,1716.00 L103.77,1716.50 L105.27,1717.00 L106.78,1717.50 L108.29,1717.99 L109.80,1718.47 L111.31,1718.95 L112.81,1719.43 L114.32,1719.90 L115.83,1720.37 L117.34,1720.83 L118.85,1721.29 L120.35,1721.75 L121.86,1722.20 L123.37,1722.65 L124.88,1723.10 L126.38,1723.54 L127.89,1723.98 L129.40,1724.42 L130.91,1724.85 L132.42,1725.28 L133.92,1725.70 L135.43,1726.12 L136.94,1726.54 L138.45,1726.96 L139.96,1727.37 L141.46,1727.78 L142.97,1728.19 L144.48,1728.59 L145.99,1729.00 L147.50,1729.40 L149.00,1729.79 L150.51,1730.19 L152.02,1730.58 L153.53,1730.97 L155.04,1731.36 L156.54,1731.74 L158.05,1732.13 L159.56,1732.51 L161.07,1732.89 L162.57,1733.27 L164.08,1733.64 L165.59,1734.02 L167.10,1734.39 L168.61,1734.76 L170.11,1735.13 L171.62,1735.50 L173.13,1735.86 L174.64,1736.23 L176.15,1736.59 L177.65,1736.96 L179.16,1737.32 L180.67,1737.68 L182.18,1738.04 L183.69,1738.40 L185.19,1738.75 L186.70,1739.11 L188.21,1739.46 L189.72,1739.80 L191.23,1740.14 L192.73,1740.48 L194.24,1740.81 L195.75,1741.13 L197.26,1741.45 L198.77,1741.75 L200.27,1742.05 L201.78,1742.34 L203.29,1742.63 L204.80,1742.90 L206.30,1743.16 L207.81,1743.40 L209.32,1743.64 L210.83,1743.86 L212.34,1744.07 L213.84,1744.27 L215.35,1744.45 L216.86,1744.62 L218.37,1744.77 L219.88,1744.90 L221.38,1745.02 L222.89,1745.11 L224.40,1745.20 L225.91,1745.26 L227.42,1745.30 L228.92,1745.32 L230.43,1745.32 L231.94,1745.30 L233.45,1745.26 L234.96,1745.19 L236.46,1745.11 L237.97,1744.99 L239.48,1744.86 L240.99,1744.70 L242.49,1744.51 L244.00,1744.29 L245.51,1744.05 L247.02,1743.78 L248.53,1743.49 L250.03,1743.16 L251.54,1742.81 L253.05,1742.42 L254.56,1742.01 L256.07,1741.56 L257.57,1741.08 L259.08,1740.58 L260.59,1740.04 L262.10,1739.48 L263.61,1738.88 L265.11,1738.26 L266.62,1737.62 L268.13,1736.95 L269.64,1736.26 L271.15,1735.54 L272.65,1734.79 L274.16,1734.03 L275.67,1733.24 L277.18,1732.44 L278.68,1731.61 L280.19,1730.76 L281.70,1729.90 L283.21,1729.02 L284.72,1728.12 L286.22,1727.20 L287.73,1726.27 L289.24,1725.32 L290.75,1724.36 L292.26,1723.38 L293.76,1722.40 L295.27,1721.41 L296.78,1720.41 L298.29,1719.42 L299.80,1718.44 L301.30,1717.47 L302.81,1716.52 L304.32,1715.59 L305.83,1714.69 L307.34,1713.83 L308.84,1712.99 L310.35,1712.20 L311.86,1711.46 L313.37,1710.77 L314.88,1710.13 L316.38,1709.56 L317.89,1709.05 L319.40,1708.61 L320.91,1708.25 L322.41,1707.96 L323.92,1707.76 L325.43,1707.63 L326.94,1707.58 L328.45,1707.61 L329.95,1707.72 L331.46,1707.91 L332.97,1708.18 L334.48,1708.52 L335.99,1708.94 L337.49,1709.43 L339.00,1710.00 L340.51,1710.65 L342.02,1711.37 L343.53,1712.16 L345.03,1713.03 L346.54,1713.98 L348.05,1714.99 L349.56,1716.08 L351.07,1717.24 L352.57,1718.48 L354.08,1719.78 L355.59,1721.16 L357.10,1722.61 L358.60,1724.13 L360.11,1725.71 L361.62,1727.37 L363.13,1729.08 L364.64,1730.86 L366.14,1732.70 L367.65,1734.59 L369.16,1736.54 L370.67,1738.54 L372.18,1740.60 L373.68,1742.70 L375.19,1744.85 L376.70,1747.04" stroke-width="2.3" stroke-linecap="round" stroke-dasharray="0.01 8.3"/>
<path d="M376.70,1747.04 L378.21,1744.97 L379.71,1742.91 L381.22,1740.88 L382.73,1738.86 L384.24,1736.86 L385.74,1734.87 L387.25,1732.90 L388.76,1730.95 L390.27,1729.01 L391.77,1727.10 L393.28,1725.20 L394.79,1723.31 L396.30,1721.45 L397.80,1719.60 L399.31,1717.77 L400.82,1715.95 L402.33,1714.16 L403.83,1712.38 L405.34,1710.62 L406.85,1708.88 L408.36,1707.15 L409.86,1705.45 L411.37,1703.76 L412.88,1702.09 L414.39,1700.44 L415.89,1698.81 L417.40,1697.19 L418.91,1695.60 L420.42,1694.02 L421.92,1692.47 L423.43,1690.93 L424.94,1689.41 L426.45,1687.91 L427.95,1686.43 L429.46,1684.96 L430.97,1683.52 L432.47,1682.10 L433.98,1680.69 L435.49,1679.31 L437.00,1677.95 L438.50,1676.60 L440.01,1675.28 L441.52,1673.97 L443.03,1672.69 L444.53,1671.42 L446.04,1670.18 L447.55,1668.95 L449.06,1667.75 L450.56,1666.57 L452.07,1665.40 L453.58,1664.26 L455.09,1663.14 L456.59,1662.03 L458.10,1660.94 L459.61,1659.87 L461.12,1658.81 L462.62,1657.77 L464.13,1656.74 L465.64,1655.72 L467.15,1654.72 L468.65,1653.73 L470.16,1652.74 L471.67,1651.77 L473.18,1650.80 L474.68,1649.84 L476.19,1648.89 L477.70,1647.94 L479.21,1647.00 L480.71,1646.06 L482.22,1645.13 L483.73,1644.19 L485.23,1643.26 L486.74,1642.33 L488.25,1641.40 L489.76,1640.47 L491.26,1639.53 L492.77,1638.59 L494.28,1637.65 L495.79,1636.70 L497.29,1635.74 L498.80,1634.78 L500.31,1633.81 L501.82,1632.84 L503.32,1631.85 L504.83,1630.85 L506.34,1629.85 L507.85,1628.83 L509.35,1627.79 L510.86,1626.75 L512.37,1625.68 L513.88,1624.61 L515.38,1623.51 L516.89,1622.40 L518.40,1621.27 L519.91,1620.12 L521.41,1618.95 L522.92,1617.76 L524.43,1616.55 L525.94,1615.32 L527.44,1614.06 L528.95,1612.78 L530.46,1611.47 L531.97,1610.14 L533.47,1608.77 L534.98,1607.39 L536.49,1605.97 L537.99,1604.53 L539.50,1603.06 L541.01,1601.56 L542.52,1600.03 L544.02,1598.48 L545.53,1596.90 L547.04,1595.29 L548.55,1593.66 L550.05,1591.99 L551.56,1590.30 L553.07,1588.58 L554.58,1586.83 L556.08,1585.06 L557.59,1583.26 L559.10,1581.42 L560.61,1579.56 L562.11,1577.68 L563.62,1575.76 L565.13,1573.81 L566.64,1571.84 L568.14,1569.84 L569.65,1567.81 L571.16,1565.75 L572.67,1563.66 L574.17,1561.55 L575.68,1559.40 L577.19,1557.23 L578.70,1555.02 L580.20,1552.79 L581.71,1550.53 L583.22,1548.24 L584.73,1545.92 L586.23,1543.58 L587.74,1541.20 L589.25,1538.79 L590.75,1536.36 L592.26,1533.89 L593.77,1531.40 L595.28,1528.87 L596.78,1526.32 L598.29,1523.74 L599.80,1521.14 L601.31,1518.51 L602.81,1515.86 L604.32,1513.18 L605.83,1510.48 L607.34,1507.77 L608.84,1505.03 L610.35,1502.28 L611.86,1499.50 L613.37,1496.72 L614.87,1493.91 L616.38,1491.09 L617.89,1488.26 L619.40,1485.42 L620.90,1482.57 L622.41,1479.71 L623.92,1476.83 L625.43,1473.95 L626.93,1471.07 L628.44,1468.18 L629.95,1465.28 L631.46,1462.38 L632.96,1459.48 L634.47,1456.57 L635.98,1453.67 L637.49,1450.77 L638.99,1447.87 L640.50,1444.97" stroke-width="2.3" stroke-linecap="round" stroke-dasharray="0.01 8.3"/>
<path d="M224.00,2049.98 L225.51,2044.32 L227.02,2038.79 L228.54,2033.38 L230.05,2028.07 L231.56,2022.86 L233.07,2017.73 L234.58,2012.67 L236.10,2007.67 L237.61,2002.71 L239.12,1997.78 L240.63,1992.87 L242.14,1987.98 L243.65,1983.13 L245.17,1978.31 L246.68,1973.53 L248.19,1968.79 L249.70,1964.11 L251.21,1959.49 L252.73,1954.92 L254.24,1950.43 L255.75,1946.00 L257.26,1941.63 L258.77,1937.33 L260.29,1933.10 L261.80,1928.94 L263.31,1924.85 L264.82,1920.83 L266.33,1916.87 L267.84,1912.99 L269.36,1909.18 L270.87,1905.44 L272.38,1901.78 L273.89,1898.19 L275.40,1894.67 L276.92,1891.23 L278.43,1887.86 L279.94,1884.57 L281.45,1881.36 L282.96,1878.23 L284.48,1875.17 L285.99,1872.18 L287.50,1869.27 L289.01,1866.42 L290.52,1863.64 L292.03,1860.93 L293.55,1858.28 L295.06,1855.69 L296.57,1853.15 L298.08,1850.67 L299.59,1848.25 L301.11,1845.87 L302.62,1843.54 L304.13,1841.25 L305.64,1839.01 L307.15,1836.81 L308.67,1834.65 L310.18,1832.52 L311.69,1830.43 L313.20,1828.37 L314.71,1826.33 L316.22,1824.33 L317.74,1822.34 L319.25,1820.38 L320.76,1818.44 L322.27,1816.51 L323.78,1814.60 L325.30,1812.70 L326.81,1810.81 L328.32,1808.93 L329.83,1807.05 L331.34,1805.18 L332.86,1803.32 L334.37,1801.46 L335.88,1799.60 L337.39,1797.75 L338.90,1795.89 L340.41,1794.04 L341.93,1792.18 L343.44,1790.32 L344.95,1788.46 L346.46,1786.60 L347.97,1784.73 L349.49,1782.85 L351.00,1780.97 L352.51,1779.08 L354.02,1777.18 L355.53,1775.27 L357.05,1773.35 L358.56,1771.42 L360.07,1769.48 L361.58,1767.52 L363.09,1765.55 L364.60,1763.56 L366.12,1761.56 L367.63,1759.54 L369.14,1757.50 L370.65,1755.44 L372.16,1753.36 L373.68,1751.26 L375.19,1749.14 L376.70,1746.99" stroke-width="2.3" stroke-linecap="round" stroke-dasharray="0.01 8.3"/>
<path d="M376.70,1746.92 L378.20,1749.37 L379.71,1751.80 L381.21,1754.22 L382.71,1756.63 L384.22,1759.01 L385.72,1761.38 L387.22,1763.74 L388.73,1766.07 L390.23,1768.38 L391.74,1770.66 L393.24,1772.93 L394.74,1775.16 L396.25,1777.38 L397.75,1779.56 L399.25,1781.72 L400.76,1783.85 L402.26,1785.94 L403.76,1788.01 L405.27,1790.04 L406.77,1792.04 L408.27,1794.00 L409.78,1795.92 L411.28,1797.81 L412.79,1799.66 L414.29,1801.47 L415.79,1803.24 L417.30,1804.97 L418.80,1806.65 L420.30,1808.29 L421.81,1809.89 L423.31,1811.43 L424.81,1812.93 L426.32,1814.38 L427.82,1815.78 L429.32,1817.13 L430.83,1818.42 L432.33,1819.67 L433.84,1820.85 L435.34,1821.98 L436.84,1823.06 L438.35,1824.07 L439.85,1825.03 L441.35,1825.92 L442.86,1826.76 L444.36,1827.54 L445.86,1828.26 L447.37,1828.93 L448.87,1829.55 L450.38,1830.11 L451.88,1830.61 L453.38,1831.07 L454.89,1831.48 L456.39,1831.84 L457.89,1832.15 L459.40,1832.42 L460.90,1832.64 L462.40,1832.81 L463.91,1832.95 L465.41,1833.04 L466.91,1833.09 L468.42,1833.11 L469.92,1833.08 L471.42,1833.02 L472.93,1832.92 L474.43,1832.79 L475.94,1832.62 L477.44,1832.43 L478.94,1832.20 L480.45,1831.94 L481.95,1831.65 L483.45,1831.34 L484.96,1830.99 L486.46,1830.63 L487.96,1830.24 L489.47,1829.82 L490.97,1829.39 L492.48,1828.93 L493.98,1828.45 L495.48,1827.96 L496.99,1827.45 L498.49,1826.92 L499.99,1826.38 L501.50,1825.82 L503.00,1825.25 L504.50,1824.67 L506.01,1824.08 L507.51,1823.48 L509.01,1822.87 L510.52,1822.26 L512.02,1821.64 L513.52,1821.02 L515.03,1820.39 L516.53,1819.76 L518.04,1819.13 L519.54,1818.50 L521.04,1817.87 L522.55,1817.24 L524.05,1816.62 L525.55,1816.00 L527.06,1815.39 L528.56,1814.78 L530.06,1814.19 L531.57,1813.60 L533.07,1813.02 L534.58,1812.46 L536.08,1811.91 L537.58,1811.37 L539.09,1810.84 L540.59,1810.33 L542.09,1809.83 L543.60,1809.35 L545.10,1808.88 L546.60,1808.42 L548.11,1807.99 L549.61,1807.56 L551.11,1807.16 L552.62,1806.77 L554.12,1806.40 L555.62,1806.04 L557.13,1805.71 L558.63,1805.39 L560.14,1805.09 L561.64,1804.81 L563.14,1804.55 L564.65,1804.30 L566.15,1804.08 L567.65,1803.88 L569.16,1803.70 L570.66,1803.54 L572.16,1803.40 L573.67,1803.29 L575.17,1803.19 L576.67,1803.12 L578.18,1803.07 L579.68,1803.05 L581.19,1803.05 L582.69,1803.07 L584.19,1803.12 L585.70,1803.19 L587.20,1803.28 L588.70,1803.40 L590.21,1803.54 L591.71,1803.70 L593.21,1803.88 L594.72,1804.09 L596.22,1804.31 L597.73,1804.55 L599.23,1804.82 L600.73,1805.10 L602.24,1805.40 L603.74,1805.72 L605.24,1806.05 L606.75,1806.41 L608.25,1806.78 L609.75,1807.16 L611.26,1807.56 L612.76,1807.98 L614.26,1808.41 L615.77,1808.85 L617.27,1809.30 L618.77,1809.77 L620.28,1810.26 L621.78,1810.75 L623.29,1811.25 L624.79,1811.77 L626.29,1812.30 L627.80,1812.83 L629.30,1813.38 L630.80,1813.93 L632.31,1814.50 L633.81,1815.07 L635.31,1815.64 L636.82,1816.23 L638.32,1816.83 L639.83,1817.43 L641.33,1818.04 L642.83,1818.65 L644.34,1819.28 L645.84,1819.91 L647.34,1820.54 L648.85,1821.19 L650.35,1821.84 L651.85,1822.50 L653.36,1823.16 L654.86,1823.83 L656.36,1824.50 L657.87,1825.18 L659.37,1825.87 L660.88,1826.56 L662.38,1827.26 L663.88,1827.96 L665.39,1828.67 L666.89,1829.38 L668.39,1830.09 L669.90,1830.82 L671.40,1831.54 L672.90,1832.27 L674.41,1833.00 L675.91,1833.74 L677.41,1834.48 L678.92,1835.23 L680.42,1835.97 L681.92,1836.72 L683.43,1837.48 L684.93,1838.24 L686.44,1839.00 L687.94,1839.76 L689.44,1840.53 L690.95,1841.29 L692.45,1842.06 L693.95,1842.83 L695.46,1843.61 L696.96,1844.38 L698.46,1845.16 L699.97,1845.94 L701.47,1846.72 L702.97,1847.50 L704.48,1848.28 L705.98,1849.07 L707.49,1849.85 L708.99,1850.63 L710.49,1851.42 L712.00,1852.20 L713.50,1852.99" stroke-width="2.3" stroke-linecap="round" stroke-dasharray="0.01 8.3"/>
<path d="M131.00,2056.00 L132.50,2053.51 L134.00,2051.01 L135.50,2048.51 L137.01,2046.01 L138.51,2043.50 L140.01,2040.98 L141.51,2038.46 L143.01,2035.94 L144.51,2033.41 L146.01,2030.87 L147.51,2028.33 L149.02,2025.79 L150.52,2023.24 L152.02,2020.69 L153.52,2018.13 L155.02,2015.57 L156.52,2013.01 L158.02,2010.44 L159.52,2007.87 L161.03,2005.30 L162.53,2002.72 L164.03,2000.14 L165.53,1997.56 L167.03,1994.97 L168.53,1992.39 L170.03,1989.80 L171.53,1987.20 L173.04,1984.61 L174.54,1982.01 L176.04,1979.42 L177.54,1976.81 L179.04,1974.21 L180.54,1971.61 L182.04,1969.01 L183.55,1966.40 L185.05,1963.79 L186.55,1961.18 L188.05,1958.58 L189.55,1955.97 L191.05,1953.36 L192.55,1950.75 L194.05,1948.14 L195.56,1945.53 L197.06,1942.92 L198.56,1940.31 L200.06,1937.70 L201.56,1935.09 L203.06,1932.48 L204.56,1929.87 L206.06,1927.26 L207.57,1924.66 L209.07,1922.05 L210.57,1919.45 L212.07,1916.84 L213.57,1914.24 L215.07,1911.64 L216.57,1909.05 L218.07,1906.45 L219.58,1903.86 L221.08,1901.26 L222.58,1898.68 L224.08,1896.09 L225.58,1893.50 L227.08,1890.92 L228.58,1888.35 L230.09,1885.77 L231.59,1883.20 L233.09,1880.63 L234.59,1878.06 L236.09,1875.50 L237.59,1872.94 L239.09,1870.39 L240.59,1867.84 L242.10,1865.29 L243.60,1862.75 L245.10,1860.21 L246.60,1857.68 L248.10,1855.15 L249.60,1852.63 L251.10,1850.11 L252.60,1847.61 L254.11,1845.11 L255.61,1842.62 L257.11,1840.14 L258.61,1837.67 L260.11,1835.22 L261.61,1832.78 L263.11,1830.36 L264.61,1827.95 L266.12,1825.56 L267.62,1823.19 L269.12,1820.84 L270.62,1818.51 L272.12,1816.20 L273.62,1813.92 L275.12,1811.66 L276.62,1809.42 L278.13,1807.22 L279.63,1805.04 L281.13,1802.88 L282.63,1800.76 L284.13,1798.67 L285.63,1796.61 L287.13,1794.59 L288.64,1792.60 L290.14,1790.64 L291.64,1788.72 L293.14,1786.84 L294.64,1784.99 L296.14,1783.19 L297.64,1781.43 L299.14,1779.71 L300.65,1778.03 L302.15,1776.40 L303.65,1774.81 L305.15,1773.27 L306.65,1771.77 L308.15,1770.33 L309.65,1768.93 L311.15,1767.59 L312.66,1766.29 L314.16,1765.05 L315.66,1763.86 L317.16,1762.72 L318.66,1761.63 L320.16,1760.59 L321.66,1759.60 L323.16,1758.65 L324.67,1757.74 L326.17,1756.88 L327.67,1756.07 L329.17,1755.29 L330.67,1754.56 L332.17,1753.87 L333.67,1753.22 L335.18,1752.60 L336.68,1752.03 L338.18,1751.49 L339.68,1750.98 L341.18,1750.52 L342.68,1750.08 L344.18,1749.68 L345.68,1749.31 L347.19,1748.97 L348.69,1748.66 L350.19,1748.38 L351.69,1748.12 L353.19,1747.90 L354.69,1747.70 L356.19,1747.52 L357.69,1747.37 L359.20,1747.25 L360.70,1747.14 L362.20,1747.06 L363.70,1746.99 L365.20,1746.95 L366.70,1746.92 L368.20,1746.91 L369.70,1746.92 L371.21,1746.95 L372.71,1746.98 L374.21,1747.03 L375.71,1747.10 L377.21,1747.18 L378.71,1747.26 L380.21,1747.36 L381.72,1747.46 L383.22,1747.58 L384.72,1747.70 L386.22,1747.82 L387.72,1747.95 L389.22,1748.09 L390.72,1748.22 L392.22,1748.36 L393.73,1748.50 L395.23,1748.64 L396.73,1748.78 L398.23,1748.92 L399.73,1749.06 L401.23,1749.19 L402.73,1749.32 L404.23,1749.44 L405.74,1749.55 L407.24,1749.66 L408.74,1749.76 L410.24,1749.86 L411.74,1749.95 L413.24,1750.02 L414.74,1750.09 L416.24,1750.16 L417.75,1750.21 L419.25,1750.25 L420.75,1750.29 L422.25,1750.31 L423.75,1750.32 L425.25,1750.33 L426.75,1750.32 L428.26,1750.30 L429.76,1750.27 L431.26,1750.22 L432.76,1750.16 L434.26,1750.09 L435.76,1750.01 L437.26,1749.92 L438.76,1749.80 L440.27,1749.68 L441.77,1749.54 L443.27,1749.38 L444.77,1749.21 L446.27,1749.03 L447.77,1748.83 L449.27,1748.61 L450.77,1748.37 L452.28,1748.12 L453.78,1747.85 L455.28,1747.56 L456.78,1747.26 L458.28,1746.93 L459.78,1746.59 L461.28,1746.22 L462.78,1745.84 L464.29,1745.44 L465.79,1745.02 L467.29,1744.57 L468.79,1744.11 L470.29,1743.62 L471.79,1743.11 L473.29,1742.58 L474.80,1742.03 L476.30,1741.46 L477.80,1740.87 L479.30,1740.26 L480.80,1739.63 L482.30,1738.98 L483.80,1738.32 L485.30,1737.63 L486.81,1736.93 L488.31,1736.21 L489.81,1735.48 L491.31,1734.73 L492.81,1733.96 L494.31,1733.18 L495.81,1732.39 L497.31,1731.58 L498.82,1730.75 L500.32,1729.92 L501.82,1729.07 L503.32,1728.21 L504.82,1727.33 L506.32,1726.45 L507.82,1725.55 L509.32,1724.65 L510.83,1723.73 L512.33,1722.81 L513.83,1721.87 L515.33,1720.93 L516.83,1719.98 L518.33,1719.02 L519.83,1718.05 L521.34,1717.08 L522.84,1716.10 L524.34,1715.11 L525.84,1714.12 L527.34,1713.12 L528.84,1712.12 L530.34,1711.12 L531.84,1710.11 L533.35,1709.10 L534.85,1708.08 L536.35,1707.06 L537.85,1706.04 L539.35,1705.01 L540.85,1703.98 L542.35,1702.95 L543.85,1701.91 L545.36,1700.88 L546.86,1699.83 L548.36,1698.79 L549.86,1697.74 L551.36,1696.69 L552.86,1695.64 L554.36,1694.58 L555.86,1693.52 L557.37,1692.46 L558.87,1691.39 L560.37,1690.32 L561.87,1689.25 L563.37,1688.18 L564.87,1687.10 L566.37,1686.02 L567.88,1684.94 L569.38,1683.86 L570.88,1682.77 L572.38,1681.69 L573.88,1680.60 L575.38,1679.50 L576.88,1678.41 L578.38,1677.31 L579.89,1676.21 L581.39,1675.11 L582.89,1674.01 L584.39,1672.90 L585.89,1671.80 L587.39,1670.69 L588.89,1669.58 L590.39,1668.46 L591.90,1667.35 L593.40,1666.23 L594.90,1665.12 L596.40,1664.00 L597.90,1662.88 L599.40,1661.75 L600.90,1660.63 L602.40,1659.50 L603.91,1658.38 L605.41,1657.25 L606.91,1656.12 L608.41,1654.99 L609.91,1653.86 L611.41,1652.73 L612.91,1651.59 L614.41,1650.46 L615.92,1649.32 L617.42,1648.18 L618.92,1647.05 L620.42,1645.91 L621.92,1644.77 L623.42,1643.63 L624.92,1642.49 L626.43,1641.35 L627.93,1640.20 L629.43,1639.06 L630.93,1637.92 L632.43,1636.77 L633.93,1635.63 L635.43,1634.48 L636.93,1633.34 L638.44,1632.19 L639.94,1631.05 L641.44,1629.90 L642.94,1628.75 L644.44,1627.61 L645.94,1626.46 L647.44,1625.31 L648.94,1624.17 L650.45,1623.02 L651.95,1621.87 L653.45,1620.73 L654.95,1619.58 L656.45,1618.44 L657.95,1617.29 L659.45,1616.14 L660.95,1615.00 L662.46,1613.85 L663.96,1612.71 L665.46,1611.57 L666.96,1610.42 L668.46,1609.28 L669.96,1608.14 L671.46,1607.00 L672.97,1605.86 L674.47,1604.72 L675.97,1603.58 L677.47,1602.44 L678.97,1601.30 L680.47,1600.17 L681.97,1599.03 L683.47,1597.90 L684.98,1596.77 L686.48,1595.63 L687.98,1594.50 L689.48,1593.37 L690.98,1592.25 L692.48,1591.12 L693.98,1589.99 L695.48,1588.87 L696.99,1587.75 L698.49,1586.63 L699.99,1585.51 L701.49,1584.39 L702.99,1583.27 L704.49,1582.16 L705.99,1581.04 L707.49,1579.93 L709.00,1578.82 L710.50,1577.72 L712.00,1576.61 L713.50,1575.51" stroke-width="2.9" stroke-linecap="round" stroke-linejoin="round"/>
</g>
<path d="M76.6,1445.4 V2048.3 H738.6" fill="none" stroke="#000" stroke-width="2.3" stroke-linecap="round" stroke-linejoin="round"/>
<text class="t" x="57.1" y="1474.3" text-anchor="end">10.0</text>
<text class="t" x="57.1" y="1558.2" text-anchor="end">5.0</text>
<text class="t" x="57.1" y="1669.1" text-anchor="end">2.0</text>
<text class="t" x="57.1" y="1753.0" text-anchor="end">1.0</text>
<text class="t" x="57.1" y="1836.9" text-anchor="end">0.5</text>
<text class="t" x="57.1" y="1947.8" text-anchor="end">0.2</text>
<text class="t" x="57.1" y="2031.7" text-anchor="end">0.1</text>
<text class="t" x="212.3" y="2083.6" text-anchor="middle">−1</text>
<text class="t" x="381.0" y="2083.6" text-anchor="middle">0</text>
<text class="t" x="549.7" y="2083.6" text-anchor="middle">1</text>
<text class="t" x="718.4" y="2083.6" text-anchor="middle">2</text>
<path d="M66.2,1468.60H76.5M66.2,1552.50H76.5M66.2,1663.40H76.5M66.2,1747.30H76.5M66.2,1831.20H76.5M66.2,1942.10H76.5M66.2,2026.00H76.5M212.30,2048.0V2058.3M381.00,2048.0V2058.3M549.70,2048.0V2058.3M718.40,2048.0V2058.3" stroke="#000" stroke-width="1.6" fill="none"/>
<text class="t" x="407.1" y="2122.3" text-anchor="middle">Daytime 4-h lnLF/HF</text>
<text class="t" transform="translate(13.4,1747.3) rotate(-90)" text-anchor="middle">ORs of moderate−to−severe CSVD</text>
<text class="l" x="13.6" y="1501.3">(C)</text>
<text class="p" x="284.7" y="1471.8" text-anchor="middle">P for non−linearity: 0.502</text>
<text class="r" x="377.1" y="1734.1" text-anchor="middle">Ref. point = −0.0253</text>
</svg>
</body></html>
